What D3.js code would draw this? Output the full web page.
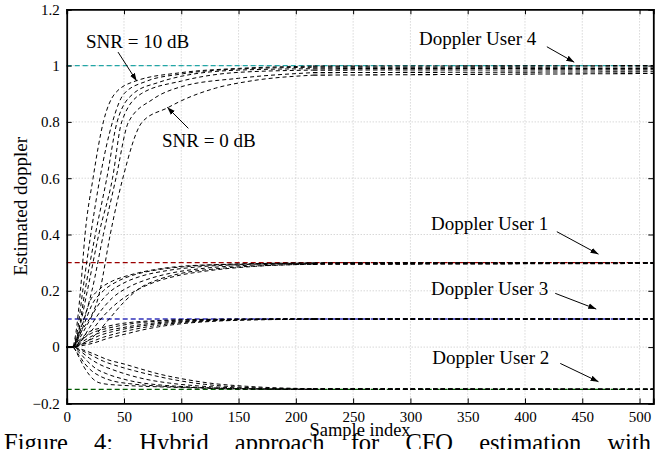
<!DOCTYPE html>
<html>
<head>
<meta charset="utf-8">
<script src="https://cdn.jsdelivr.net/npm/d3@7"></script>
<style>
  body { margin: 0; background: #fff; }
  svg { display: block; }
  svg text { font-family: "Liberation Serif", "DejaVu Serif", serif; fill: #000; }
</style>
</head>
<body>
<svg id="chart" width="666" height="449"></svg>
<script>
// true doppler values per user
const users = ["User 4", "User 1", "User 3", "User 2"];
const trueDoppler = [1.0, 0.3, 0.1, -0.15];
const refColors = ["#22a6a6", "#9a0000", "#3333bb", "#005a00"];

const xTicks = [0, 50, 100, 150, 200, 250, 300, 350, 400, 450, 500];
const yTicks = [-0.2, 0, 0.2, 0.4, 0.6, 0.8, 1, 1.2];

// sample where the acquisition phase ends and the tracking part is plotted
const trackStart = 215;

// estimated doppler curves: [sample, estimate]
const user4Curves = [
  [[0,0],[5,0],[8,0.05],[12,0.2],[16,0.4],[23,0.6],[32,0.8],[42,0.9],[60,0.945],[100,0.975],[150,0.99],[215,0.998],[512,1.0]],
  [[0,0],[5,0],[9,0.05],[14,0.2],[21,0.4],[29,0.6],[40,0.8],[50,0.9],[70,0.945],[100,0.97],[150,0.988],[215,0.994],[512,0.995]],
  [[0,0],[5,0],[10,0.05],[16,0.2],[25,0.4],[35,0.6],[44,0.8],[58,0.9],[80,0.94],[100,0.962],[150,0.984],[215,0.989],[512,0.99]],
  [[0,0],[5,0],[10,0.05],[18,0.2],[28,0.4],[40,0.6],[48,0.8],[65,0.9],[100,0.945],[150,0.976],[215,0.984],[512,0.985]],
  [[0,0],[5,0],[11,0.05],[22,0.2],[32,0.4],[43,0.6],[54,0.8],[75,0.88],[100,0.925],[150,0.955],[215,0.975],[512,0.978]],
  [[0,0],[5,0],[12,0.05],[29,0.2],[38,0.4],[49,0.6],[66,0.8],[88,0.85],[100,0.875],[130,0.92],[160,0.945],[215,0.966],[512,0.972]]
];
const user1Curves = [
  [[0,0],[5,0],[10,0.04],[15,0.1],[20,0.16],[30,0.21],[40,0.235],[50,0.25],[65,0.266],[90,0.283],[130,0.293],[215,0.299],[512,0.3]],
  [[0,0],[5,0],[10,0.03],[16,0.09],[22,0.15],[32,0.2],[45,0.235],[60,0.258],[80,0.275],[110,0.288],[150,0.295],[215,0.299],[512,0.3]],
  [[0,0],[5,0],[11,0.03],[18,0.08],[26,0.14],[36,0.19],[50,0.228],[65,0.252],[85,0.27],[115,0.285],[160,0.294],[215,0.298],[512,0.299]],
  [[0,0],[5,0],[12,0.02],[20,0.07],[30,0.13],[40,0.175],[55,0.215],[70,0.24],[90,0.262],[120,0.28],[160,0.291],[215,0.297],[512,0.299]],
  [[0,0],[5,0],[12,0.02],[22,0.06],[32,0.11],[45,0.16],[60,0.2],[75,0.228],[95,0.252],[125,0.272],[165,0.287],[215,0.295],[512,0.298]],
  [[0,0],[5,0],[13,0.01],[24,0.04],[35,0.09],[50,0.16],[64,0.21],[80,0.24],[100,0.262],[130,0.278],[170,0.289],[215,0.294],[512,0.297]]
];
const user3Curves = [
  [[0,0],[5,0],[10,0.02],[15,0.04],[20,0.055],[30,0.068],[40,0.078],[50,0.085],[65,0.091],[90,0.096],[130,0.099],[215,0.1],[512,0.1]],
  [[0,0],[5,0],[10,0.015],[16,0.035],[22,0.05],[32,0.063],[45,0.075],[60,0.085],[80,0.092],[110,0.097],[150,0.099],[215,0.1],[512,0.1]],
  [[0,0],[5,0],[11,0.012],[18,0.03],[25,0.045],[35,0.058],[50,0.07],[65,0.08],[85,0.089],[115,0.095],[160,0.099],[215,0.1],[512,0.1]],
  [[0,0],[5,0],[12,0.01],[20,0.025],[28,0.04],[40,0.055],[55,0.068],[70,0.078],[90,0.087],[120,0.094],[160,0.098],[215,0.1],[512,0.1]],
  [[0,0],[5,0],[12,0.008],[22,0.02],[32,0.035],[45,0.05],[60,0.064],[75,0.075],[95,0.085],[125,0.093],[165,0.098],[215,0.1],[512,0.1]],
  [[0,0],[5,0],[13,0.005],[24,0.015],[35,0.03],[50,0.045],[65,0.06],[80,0.072],[100,0.083],[130,0.092],[170,0.097],[215,0.099],[512,0.1]]
];
const user2Curves = [
  [[0,0],[5,0],[10,-0.03],[15,-0.07],[20,-0.1],[25,-0.12],[32,-0.13],[45,-0.135],[60,-0.138],[80,-0.141],[110,-0.145],[150,-0.149],[215,-0.15],[512,-0.15]],
  [[0,0],[5,0],[10,-0.025],[16,-0.06],[22,-0.085],[30,-0.105],[40,-0.12],[55,-0.13],[75,-0.137],[100,-0.142],[140,-0.147],[215,-0.15],[512,-0.15]],
  [[0,0],[5,0],[11,-0.02],[18,-0.05],[25,-0.075],[35,-0.095],[48,-0.112],[62,-0.125],[80,-0.134],[105,-0.141],[145,-0.147],[215,-0.15],[512,-0.15]],
  [[0,0],[5,0],[12,-0.015],[20,-0.04],[28,-0.06],[40,-0.08],[55,-0.1],[70,-0.115],[90,-0.128],[115,-0.138],[150,-0.145],[215,-0.149],[512,-0.15]],
  [[0,0],[5,0],[12,-0.01],[22,-0.03],[32,-0.05],[45,-0.068],[60,-0.085],[75,-0.1],[95,-0.117],[120,-0.132],[155,-0.143],[215,-0.149],[512,-0.15]],
  [[0,0],[5,0],[13,-0.008],[24,-0.025],[36,-0.045],[50,-0.06],[65,-0.078],[80,-0.095],[100,-0.112],[125,-0.128],[160,-0.14],[215,-0.148],[512,-0.15]]
];

// annotations in data units: text anchor, arrow start, arrow end
const notes = [
  { text: "SNR = 10 dB",     at: [16.9, 1.064],  from: [44.8, 1.048],  to: [61.1, 0.945] },
  { text: "SNR = 0 dB",      at: [83.2, 0.712],  from: [106.2, 0.777], to: [87.8, 0.852] },
  { text: "Doppler User 4",  at: [307.6, 1.073], from: [419.1, 1.067], to: [443, 1.012] },
  { text: "Doppler User 1",  at: [318, 0.416],   from: [427.8, 0.41],  to: [464.2, 0.33] },
  { text: "Doppler User 3",  at: [318, 0.185],   from: [426.4, 0.191], to: [462.2, 0.135] },
  { text: "Doppler User 2",  at: [319, -0.061],  from: [430.8, -0.058],to: [464.2, -0.123] }
];

const svg = d3.select("#chart");
const x = d3.scaleLinear().domain([0, 512]).range([66.7, 653.3]);
const y = d3.scaleLinear().domain([-0.2, 1.2]).range([403.4, 9.3]);

svg.append("defs").append("marker")
  .attr("id", "arrow")
  .attr("viewBox", "0 0 10 10")
  .attr("refX", 10).attr("refY", 5)
  .attr("markerWidth", 8).attr("markerHeight", 8)
  .attr("markerUnits", "userSpaceOnUse")
  .attr("orient", "auto")
  .append("path").attr("d", "M0,1.5L10,5L0,8.5Z").attr("fill", "#000");

// dotted grid
const grid = svg.append("g").attr("stroke", "#b8b8b8").attr("stroke-width", 0.8).attr("stroke-dasharray", "1,2");
grid.selectAll(".gx").data(xTicks.filter(d => d > 0)).join("line")
  .attr("x1", d => x(d)).attr("x2", d => x(d)).attr("y1", y(-0.2)).attr("y2", y(1.2));
grid.selectAll(".gy").data(yTicks.filter(d => d > -0.2 && d < 1.2)).join("line")
  .attr("x1", x(0)).attr("x2", x(512)).attr("y1", d => y(d)).attr("y2", d => y(d));

// true doppler lines
svg.append("g").selectAll("line").data(trueDoppler).join("line")
  .attr("x1", x(0)).attr("x2", x(512))
  .attr("y1", d => y(d)).attr("y2", d => y(d))
  .attr("stroke", (d, i) => refColors[i])
  .attr("stroke-width", 1.4)
  .attr("stroke-dasharray", "5,3");

// estimated curves: acquisition part, then the tracking part as its own dashed segment
const line = d3.line().x(d => x(d[0])).y(d => y(d[1])).curve(d3.curveMonotoneX);
const allCurves = [].concat(user4Curves, user1Curves, user3Curves, user2Curves);
const curves = svg.append("g").attr("fill", "none").attr("stroke", "#000");
curves.selectAll(".acq").data(allCurves).join("path")
  .attr("d", d => line(d.filter(p => p[0] <= trackStart)))
  .attr("stroke-width", 1)
  .attr("stroke-dasharray", "4,3")
  .attr("stroke-dashoffset", (d, i) => (i % 6) * 1.2);
curves.selectAll(".trk").data(allCurves).join("path")
  .attr("d", d => line(d.filter(p => p[0] >= trackStart)))
  .attr("stroke-width", 1.1)
  .attr("stroke-dasharray", "4.5,3");

// box with inward ticks on all sides
const axG = svg.append("g");
axG.append("g").attr("transform", `translate(0,${y(-0.2)})`)
  .call(d3.axisBottom(x).tickValues(xTicks).tickSize(-5).tickPadding(8).tickFormat(d3.format("d")));
axG.append("g").attr("transform", `translate(0,${y(1.2)})`)
  .call(d3.axisTop(x).tickValues(xTicks).tickSize(-5).tickFormat(""));
axG.append("g").attr("transform", `translate(${x(0)},0)`)
  .call(d3.axisLeft(y).tickValues(yTicks).tickSize(-5).tickPadding(7)
    .tickFormat(d => d === 0 ? "0" : d === 1 ? "1" : d3.format(".1f")(d).replace("-", "\u2212")));
axG.append("g").attr("transform", `translate(${x(512)},0)`)
  .call(d3.axisRight(y).tickValues(yTicks).tickSize(-5).tickFormat(""));
axG.selectAll(".domain").attr("stroke", "#000").attr("stroke-width", 1.8);
axG.selectAll(".tick line").attr("stroke", "#000").attr("stroke-width", 1);
axG.selectAll(".tick text")
  .style("font-family", "'Liberation Serif', serif")
  .style("font-size", "15px")
  .attr("fill", "#000");

// axis labels
svg.append("text")
  .attr("x", x(256)).attr("y", 436)
  .attr("text-anchor", "middle")
  .style("font-size", "18.5px")
  .text("Sample index");
svg.append("text")
  .attr("transform", `translate(27,${y(0.5)}) rotate(-90)`)
  .attr("text-anchor", "middle")
  .style("font-size", "19px")
  .text("Estimated doppler");

// annotations
const ann = svg.append("g");
ann.selectAll("text").data(notes).join("text")
  .attr("x", d => x(d.at[0])).attr("y", d => y(d.at[1]))
  .style("font-size", "19px")
  .text(d => d.text);
ann.selectAll("line").data(notes).join("line")
  .attr("x1", d => x(d.from[0])).attr("y1", d => y(d.from[1]))
  .attr("x2", d => x(d.to[0])).attr("y2", d => y(d.to[1]))
  .attr("stroke", "#000").attr("stroke-width", 1)
  .attr("marker-end", "url(#arrow)");

// caption, cut off at the bottom
svg.append("text")
  .attr("x", 4).attr("y", 451)
  .style("font-size", "24.5px")
  .style("word-spacing", "20px")
  .text("Figure 4:  Hybrid approach for CFO estimation with");
</script>
</body>
</html>
